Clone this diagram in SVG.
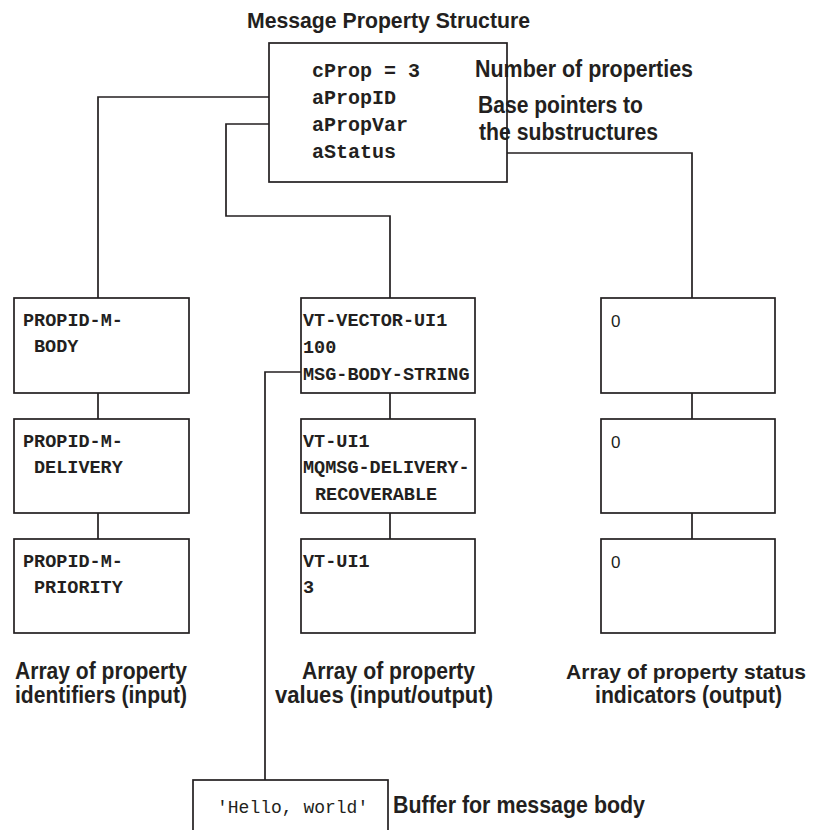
<svg xmlns="http://www.w3.org/2000/svg" width="815" height="830" viewBox="0 0 815 830">
<style>
.bg{fill:#ffffff}
.box{fill:none;stroke:#231f20;stroke-width:1.7}
.wire{fill:none;stroke:#231f20;stroke-width:1.7}
.code{font-family:"Liberation Mono","DejaVu Sans Mono",monospace;font-weight:bold;font-size:18.5px;fill:#231f20}
.code20{font-family:"Liberation Mono","DejaVu Sans Mono",monospace;font-weight:bold;font-size:20px;fill:#231f20}
.hello{font-family:"Liberation Mono","DejaVu Sans Mono",monospace;font-size:18px;fill:#231f20}
.lbl{font-family:"Liberation Sans",Arial,sans-serif;font-weight:bold;font-size:23px;fill:#231f20}
.lbls{font-family:"Liberation Sans",Arial,sans-serif;font-weight:bold;font-size:21px;fill:#231f20}
.ttl{font-family:"Liberation Sans",Arial,sans-serif;font-weight:bold;font-size:22px;fill:#231f20}
.zero{font-family:"Liberation Sans",Arial,sans-serif;font-size:17px;fill:#231f20}
</style>
<rect class="bg" x="0" y="0" width="815" height="830"/>

<g id="labels">
<text class="ttl" x="247" y="28" textLength="283" lengthAdjust="spacingAndGlyphs">Message Property Structure</text>
<text class="lbl" x="475" y="77" textLength="218" lengthAdjust="spacingAndGlyphs">Number of properties</text>
<text class="lbl" x="478" y="113" textLength="165" lengthAdjust="spacingAndGlyphs">Base pointers to</text>
<text class="lbl" x="479" y="140" textLength="179" lengthAdjust="spacingAndGlyphs">the substructures</text>
<text class="lbl" x="15" y="679" textLength="172" lengthAdjust="spacingAndGlyphs">Array of property</text>
<text class="lbl" x="15" y="703" textLength="172" lengthAdjust="spacingAndGlyphs">identifiers (input)</text>
<text class="lbl" x="302" y="679" textLength="173" lengthAdjust="spacingAndGlyphs">Array of property</text>
<text class="lbl" x="275" y="703" textLength="218" lengthAdjust="spacingAndGlyphs">values (input/output)</text>
<text class="lbls" x="566" y="679" textLength="240" lengthAdjust="spacingAndGlyphs">Array of property status</text>
<text class="lbl" x="595" y="703" textLength="187" lengthAdjust="spacingAndGlyphs">indicators (output)</text>
<text class="lbl" x="393" y="813" textLength="252" lengthAdjust="spacingAndGlyphs">Buffer for message body</text>
</g>

<g id="connectors">
<path class="wire" d="M269,97 H98 V298"/>
<path class="wire" d="M269,124 H226 V216 H390 V298"/>
<path class="wire" d="M507,153 H692 V298"/>
<path class="wire" d="M98,393 V419 M98,513 V539"/>
<path class="wire" d="M390,393 V419 M390,513 V539"/>
<path class="wire" d="M692,393 V419 M692,513 V539"/>
<path class="wire" d="M301,372 H265 V780"/>
</g>

<g id="msgprops">
<rect class="box" x="269" y="43" width="238" height="139"/>
<text class="code20" x="312" y="77">cProp = 3</text>
<text class="code20" x="312" y="104">aPropID</text>
<text class="code20" x="312" y="131">aPropVar</text>
<text class="code20" x="312" y="158">aStatus</text>
</g>

<g id="propid-body">
<rect class="box" x="14" y="298" width="175" height="95"/>
<text class="code" x="23" y="326">PROPID-M-</text>
<text class="code" x="34" y="352">BODY</text>
</g>
<g id="propid-delivery">
<rect class="box" x="14" y="419" width="175" height="94"/>
<text class="code" x="23" y="447">PROPID-M-</text>
<text class="code" x="34" y="473">DELIVERY</text>
</g>
<g id="propid-priority">
<rect class="box" x="14" y="539" width="175" height="94"/>
<text class="code" x="23" y="567">PROPID-M-</text>
<text class="code" x="34" y="593">PRIORITY</text>
</g>

<g id="var-body">
<rect class="box" x="301" y="298" width="174" height="95"/>
<text class="code" x="303" y="326">VT-VECTOR-UI1</text>
<text class="code" x="303" y="353">100</text>
<text class="code" x="303" y="380">MSG-BODY-STRING</text>
</g>
<g id="var-delivery">
<rect class="box" x="301" y="419" width="174" height="94"/>
<text class="code" x="303" y="447">VT-UI1</text>
<text class="code" x="303" y="473">MQMSG-DELIVERY-</text>
<text class="code" x="315" y="500">RECOVERABLE</text>
</g>
<g id="var-priority">
<rect class="box" x="301" y="539" width="174" height="94"/>
<text class="code" x="303" y="567">VT-UI1</text>
<text class="code" x="303" y="593">3</text>
</g>

<g id="status-1">
<rect class="box" x="601" y="298" width="174" height="95"/>
<text class="zero" x="611" y="327">0</text>
</g>
<g id="status-2">
<rect class="box" x="601" y="419" width="174" height="94"/>
<text class="zero" x="611" y="448">0</text>
</g>
<g id="status-3">
<rect class="box" x="601" y="539" width="174" height="94"/>
<text class="zero" x="611" y="568">0</text>
</g>

<g id="buffer">
<rect class="box" x="193" y="780" width="195" height="70"/>
<text class="hello" x="217" y="813">'Hello, world'</text>
</g>
</svg>
